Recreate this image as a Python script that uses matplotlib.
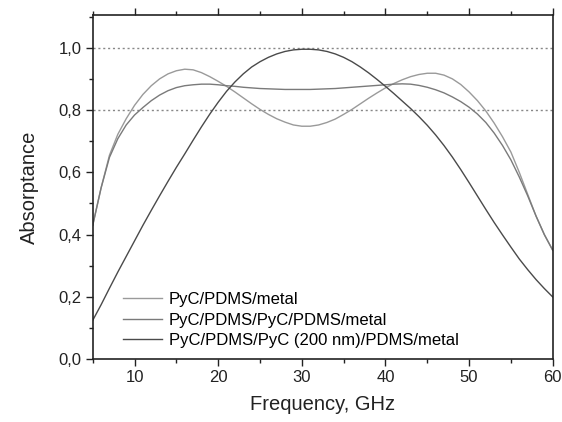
import matplotlib
matplotlib.use("Agg")
import matplotlib.pyplot as plt
from matplotlib.ticker import MultipleLocator, FuncFormatter

freq = list(range(5, 61))

s1 = [0.43, 0.55, 0.655, 0.722, 0.772, 0.815, 0.85, 0.878, 0.90, 0.916,
      0.926, 0.931, 0.929, 0.92, 0.907, 0.892, 0.876, 0.858, 0.839, 0.82,
      0.802, 0.786, 0.772, 0.761, 0.752, 0.748, 0.748, 0.752, 0.76, 0.771,
      0.786, 0.802, 0.82, 0.838, 0.855, 0.871, 0.885, 0.897, 0.907, 0.914,
      0.918, 0.918, 0.912, 0.90, 0.882, 0.858, 0.83, 0.797, 0.758, 0.714,
      0.665, 0.60, 0.53, 0.46, 0.40, 0.35]

s2 = [0.43, 0.55, 0.648, 0.708, 0.752, 0.784, 0.808, 0.83, 0.848, 0.862,
      0.872, 0.878, 0.881, 0.883, 0.883, 0.881, 0.878, 0.876, 0.873, 0.871,
      0.869, 0.868, 0.867, 0.866, 0.866, 0.866, 0.866, 0.867, 0.868, 0.869,
      0.871, 0.873, 0.875, 0.877, 0.879, 0.881, 0.883, 0.884, 0.883, 0.879,
      0.873, 0.865, 0.855, 0.842, 0.827, 0.809, 0.787, 0.76, 0.726, 0.686,
      0.64, 0.585, 0.525, 0.46, 0.40, 0.35]

s3 = [0.125, 0.175, 0.228, 0.28, 0.33, 0.38, 0.43, 0.478, 0.525, 0.571,
      0.616, 0.659, 0.703, 0.746, 0.787, 0.825, 0.86, 0.89, 0.916, 0.938,
      0.955, 0.969, 0.98, 0.988, 0.993, 0.995, 0.995, 0.993, 0.988, 0.98,
      0.969, 0.955, 0.938, 0.919, 0.898, 0.876, 0.853, 0.829, 0.805, 0.779,
      0.751, 0.72, 0.686, 0.649, 0.609, 0.567, 0.524, 0.481, 0.439, 0.399,
      0.36, 0.322, 0.288, 0.256, 0.227, 0.20]

labels = ["PyC/PDMS/metal", "PyC/PDMS/PyC/PDMS/metal", "PyC/PDMS/PyC (200 nm)/PDMS/metal"]
colors = ["#9a9a9a", "#7a7a7a", "#4a4a4a"]
ref_levels = [1.0, 0.8]

plt.rcParams['font.family'] = ['Liberation Sans', 'DejaVu Sans']

fig = plt.figure(figsize=(5.62, 4.22), dpi=100)
ax = fig.add_axes([0.165, 0.1486, 0.8185, 0.8159])

for lvl in ref_levels:
    ax.axhline(lvl, color="#888888", linestyle=(0, (1.5, 2)), linewidth=1.0, zorder=1)

for y, lab, c in zip([s1, s2, s3], labels, colors):
    ax.plot(freq, y, color=c, linewidth=1.0, label=lab, zorder=2)

ax.set_xlim(5, 60)
ax.set_ylim(0, 1.105)
ax.xaxis.set_major_locator(MultipleLocator(10))
ax.xaxis.set_minor_locator(MultipleLocator(5))
ax.yaxis.set_major_locator(MultipleLocator(0.2))
ax.yaxis.set_minor_locator(MultipleLocator(0.1))
ax.yaxis.set_major_formatter(FuncFormatter(lambda v, p: f"{v:.1f}".replace(".", ",")))

ax.tick_params(axis="x", which="both", direction="out", top=True, labeltop=False,
               bottom=True, labelsize=12, colors="#222222", pad=3)
ax.tick_params(axis="y", which="both", direction="out", left=True, right=False,
               labelsize=12, colors="#222222", pad=3)
ax.tick_params(which="major", length=5, width=1.0)
ax.tick_params(which="minor", length=3, width=1.0)
for sp in ax.spines.values():
    sp.set_linewidth(1.2)
    sp.set_color("#222222")

ax.set_xlabel("Frequency, GHz", fontsize=14.5, color="#222222", labelpad=7)
ax.set_ylabel("Absorptance", fontsize=14.5, color="#222222", labelpad=14)

ax.legend(loc="lower left", bbox_to_anchor=(0.066, 0.033), frameon=False, fontsize=12,
          handlelength=2.35, handletextpad=0.4, labelspacing=0.32, borderaxespad=0,
          borderpad=0)

fig.savefig("out.png", dpi=100)
